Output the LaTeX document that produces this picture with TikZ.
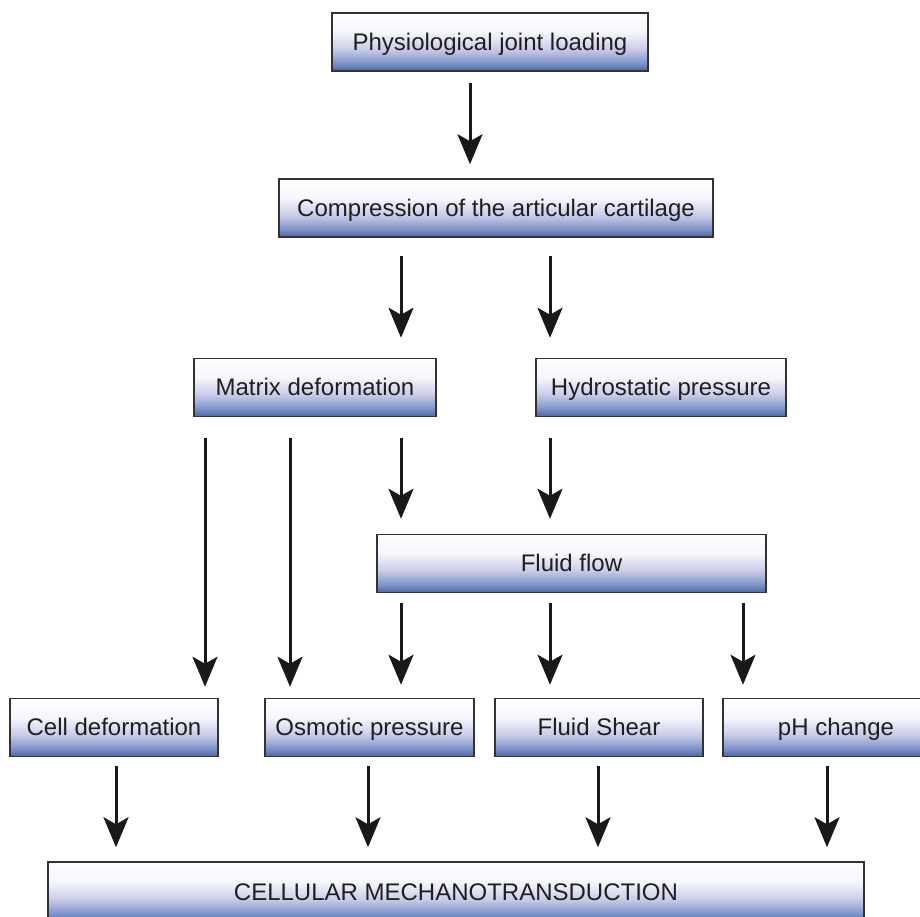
\documentclass[tikz,border=0pt]{standalone}
\usepackage{fontspec}
\setmainfont{Liberation Sans}
\usepackage{tikz}
\usetikzlibrary{arrows.meta}

\pgfdeclareverticalshading{boxshade}{100bp}{rgb(0bp)=(.29,.40,.65); rgb(25bp)=(.29,.40,.65); rgb(32bp)=(.50,.58,.79); rgb(44bp)=(.79,.80,.91); rgb(58bp)=(.96,.96,.99); rgb(75bp)=(1,1,1); rgb(100bp)=(1,1,1)}

\begin{document}
\begin{tikzpicture}[x=1pt,y=-1pt,
  box/.style={draw=black!80, line width=1.5pt, shading=boxshade, inner sep=0pt,
    minimum height=58pt, text height=17pt, text depth=1pt, text=black!88,
    font=\fontsize{24}{28}\selectfont},
  arr/.style={line width=3pt, draw=black!90, -{Stealth[length=30pt,width=25pt,inset=7pt]}}]
\useasboundingbox (0,0) rectangle (920,916);
% boxes
\node[box, minimum width=316pt] (load) at (490,42) {Physiological joint loading};
\node[box, minimum width=434pt] (comp) at (496,208) {Compression of the articular cartilage};
\node[box, minimum width=242pt] (matrix) at (315,387.5) {Matrix deformation};
\node[box, minimum width=250pt] (hydro) at (661,387.5) {Hydrostatic pressure};
\node[box, minimum width=389pt] (flow) at (571.5,563.5) {Fluid flow};
\node[box, minimum width=208pt] (cell) at (114,727.5) {Cell deformation};
\node[box, minimum width=209pt] (osmo) at (369.5,727.5) {Osmotic pressure};
\node[box, minimum width=208pt] (shear) at (599,727.5) {Fluid Shear};
\node[box, minimum width=226pt] (ph) at (836,727.5) {pH change};
\node[box, minimum width=816pt, minimum height=60pt] (mech) at (456,892) {CELLULAR MECHANOTRANSDUCTION};
% arrow columns
\coordinate (c1) at (116,0);
\coordinate (c2) at (205,0);
\coordinate (c3) at (290,0);
\coordinate (c4) at (368,0);
\coordinate (c5) at (401,0);
\coordinate (c6) at (470,0);
\coordinate (c7) at (550,0);
\coordinate (c8) at (598,0);
\coordinate (c9) at (743,0);
\coordinate (c10) at (827,0);
% arrows
\draw[arr, shorten <=11pt, shorten >=14pt] (load.south -| c6) -- (comp.north -| c6);
\draw[arr, shorten <=18pt, shorten >=20pt] (comp.south -| c5) -- (matrix.north -| c5);
\draw[arr, shorten <=18pt, shorten >=20pt] (comp.south -| c7) -- (hydro.north -| c7);
\draw[arr, shorten <=21pt, shorten >=11pt] (matrix.south -| c2) -- (cell.north -| c2);
\draw[arr, shorten <=21pt, shorten >=11pt] (matrix.south -| c3) -- (osmo.north -| c3);
\draw[arr, shorten <=21pt, shorten >=15pt] (matrix.south -| c5) -- (flow.north -| c5);
\draw[arr, shorten <=21pt, shorten >=15pt] (hydro.south -| c7) -- (flow.north -| c7);
\draw[arr, shorten <=10pt, shorten >=13pt] (flow.south -| c5) -- (osmo.north -| c5);
\draw[arr, shorten <=10pt, shorten >=13pt] (flow.south -| c7) -- (shear.north -| c7);
\draw[arr, shorten <=10pt, shorten >=13pt] (flow.south -| c9) -- (ph.north -| c9);
\draw[arr, shorten <=9pt, shorten >=14pt] (cell.south -| c1) -- (mech.north -| c1);
\draw[arr, shorten <=9pt, shorten >=14pt] (osmo.south -| c4) -- (mech.north -| c4);
\draw[arr, shorten <=9pt, shorten >=14pt] (shear.south -| c8) -- (mech.north -| c8);
\draw[arr, shorten <=9pt, shorten >=14pt] (ph.south -| c10) -- (mech.north -| c10);
\end{tikzpicture}
\end{document}
